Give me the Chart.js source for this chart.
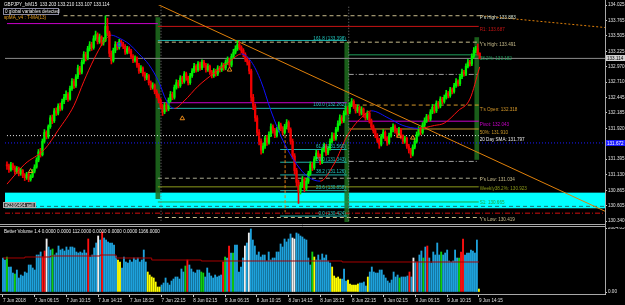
<!DOCTYPE html>
<html>
<head>
<meta charset="utf-8">
<title>GBPJPY_fx M15</title>
<script src="https://cdn.jsdelivr.net/npm/chart.js@4.4.1/dist/chart.umd.min.js"></script>
<style>
  html, body { margin: 0; padding: 0; background: #000; overflow: hidden; }
  #wrap { position: relative; width: 625px; height: 305px; background: #000; }
  canvas { position: absolute; left: 0; }
  #price { top: 0; }
  #vol { top: 227px; }
</style>
</head>
<body>
<div id="wrap">
  <canvas id="price" width="625" height="227"></canvas>
  <canvas id="vol" width="625" height="78"></canvas>
</div>
<script>
// ---- values ----
const timeLabels = ["7 Jun 2018", "7 Jun 06:15", "7 Jun 10:15", "7 Jun 14:15", "7 Jun 18:15", "7 Jun 22:15",
  "8 Jun 02:15", "8 Jun 06:15", "8 Jun 10:15", "8 Jun 14:15", "8 Jun 18:15", "8 Jun 22:15",
  "9 Jun 02:15", "9 Jun 06:15", "9 Jun 10:15", "9 Jun 14:15"];
const barsPerLabel = 16;

const priceTicks = [134.025, 133.765, 133.505, 133.225, 132.970, 132.710, 132.445, 132.185, 131.920,
  131.395, 131.130, 130.865, 130.605, 130.340];

const opens = [
131.30,131.28,131.22,131.30,131.25,131.18,131.24,131.15,131.20,131.12,
131.08,131.14,131.05,131.10,131.19,131.26,131.38,131.52,131.47,131.70,
131.85,131.78,131.95,132.10,132.05,132.22,132.18,132.30,132.26,132.38,
132.45,132.50,132.42,132.60,132.72,132.65,132.80,132.95,132.88,133.05,
133.18,133.12,133.28,133.35,133.30,133.45,133.52,133.40,133.48,133.38,
133.42,133.66,133.55,133.20,133.08,133.25,133.35,133.30,133.40,133.36,
133.32,133.22,133.28,133.24,133.15,133.08,133.12,133.00,132.90,132.95,
132.85,132.78,132.82,132.70,132.62,132.66,132.55,132.48,132.40,132.30,
132.20,132.32,132.25,132.40,132.50,132.45,132.62,132.70,132.65,132.78,
132.72,132.85,132.78,132.70,132.82,132.90,132.98,132.92,133.02,132.95,
133.05,133.00,132.92,132.98,132.88,132.82,132.90,132.85,132.95,132.92,
133.00,132.95,133.05,133.10,133.00,133.15,133.22,133.28,133.35,133.30,
133.25,133.18,133.10,133.05,132.90,132.45,132.30,132.10,131.85,131.70,
131.55,131.62,131.75,131.68,131.82,131.95,131.88,131.80,131.90,131.98,
131.92,131.85,131.95,132.02,131.90,131.70,131.45,131.20,131.00,130.85,
130.95,131.05,130.90,131.02,131.15,131.30,131.25,131.40,131.50,131.45,
131.35,131.55,131.62,131.50,131.58,131.70,131.80,131.75,131.90,132.00,
132.10,132.05,132.18,132.25,132.20,132.32,132.38,132.30,132.22,132.28,
132.18,132.25,132.15,132.10,132.18,132.05,131.95,131.88,131.80,131.72,
131.65,131.78,131.85,131.75,131.68,131.80,131.90,131.95,131.88,131.82,
131.90,131.78,131.70,131.75,131.62,131.55,131.48,131.60,131.70,131.82,
131.90,131.85,131.98,132.05,132.12,132.08,132.20,132.28,132.22,132.35,
132.30,132.42,132.38,132.45,132.52,132.48,132.58,132.55,132.65,132.72,
132.68,132.80,132.88,132.85,132.98,133.05,133.02,133.15,133.25,133.28,
133.203];
const highs = [
131.35,131.31,131.34,131.33,131.28,131.27,131.26,131.24,131.22,131.15,
131.17,131.16,131.13,131.22,131.30,131.42,131.56,131.58,131.74,131.90,
131.88,131.98,132.14,132.15,132.26,132.27,132.34,132.35,132.42,132.50,
132.56,132.53,132.64,132.77,132.76,132.84,133.00,132.98,133.09,133.23,
133.22,133.32,133.40,133.39,133.50,133.58,133.55,133.53,133.50,133.47,
133.84,133.80,133.58,133.24,133.29,133.40,133.39,133.44,133.43,133.39,
133.35,133.32,133.31,133.27,133.18,133.16,133.14,133.03,132.99,132.97,
132.88,132.86,132.84,132.73,132.70,132.68,132.58,132.51,132.43,132.33,
132.36,132.35,132.44,132.55,132.54,132.66,132.75,132.74,132.82,132.81,
132.89,132.88,132.81,132.86,132.94,133.03,133.01,133.06,133.05,133.09,
133.08,133.03,133.02,133.00,132.91,132.94,132.93,132.99,132.98,133.04,
133.03,133.09,133.14,133.12,133.19,133.27,133.33,133.42,133.40,133.33,
133.28,133.21,133.14,133.08,132.93,132.50,132.34,132.14,131.90,131.74,
131.67,131.79,131.80,131.86,132.00,131.98,131.92,131.94,132.03,132.01,
131.95,131.99,132.07,132.05,131.93,131.74,131.49,131.24,131.04,131.00,
131.10,131.08,131.06,131.19,131.35,131.34,131.44,131.55,131.54,131.48,
131.59,131.67,131.65,131.62,131.74,131.85,131.84,131.94,132.05,132.15,
132.14,132.22,132.30,132.29,132.36,132.43,132.41,132.33,132.32,132.30,
132.29,132.27,132.18,132.22,132.20,132.08,131.98,131.91,131.83,131.75,
131.82,131.90,131.88,131.78,131.84,131.94,132.00,131.98,131.91,131.94,
131.92,131.81,131.79,131.77,131.65,131.58,131.64,131.74,131.86,131.95,
131.94,132.02,132.10,132.16,132.15,132.24,132.33,132.31,132.39,132.38,
132.46,132.45,132.49,132.57,132.55,132.62,132.61,132.69,132.77,132.75,
132.84,132.93,132.91,133.02,133.10,133.08,133.19,133.30,133.32,133.36,
133.21];
const lows = [
131.22,131.17,131.19,131.21,131.14,131.15,131.11,131.12,131.08,131.03,
131.05,131.01,131.02,131.08,131.16,131.24,131.35,131.43,131.45,131.67,
131.74,131.75,131.92,132.00,132.02,132.14,132.15,132.22,132.23,132.34,
132.41,132.38,132.40,132.57,132.60,132.62,132.77,132.84,132.85,133.02,
133.07,133.09,133.24,133.25,133.27,133.42,133.36,133.37,133.33,133.34,
133.40,133.50,133.14,133.02,133.05,133.21,133.26,133.27,133.32,133.28,
133.18,133.19,133.20,133.11,133.04,133.05,132.96,132.86,132.87,132.81,
132.74,132.75,132.66,132.58,132.59,132.51,132.44,132.36,132.26,132.14,
132.17,132.21,132.22,132.37,132.41,132.42,132.59,132.61,132.62,132.68,
132.69,132.74,132.66,132.67,132.79,132.87,132.88,132.89,132.91,132.92,
132.96,132.88,132.89,132.84,132.78,132.79,132.81,132.82,132.88,132.89,
132.91,132.92,133.01,132.96,132.97,133.12,133.19,133.25,133.26,133.21,
133.14,133.06,133.00,132.85,132.38,132.24,132.04,131.80,131.64,131.48,
131.50,131.58,131.63,131.65,131.78,131.84,131.76,131.77,131.86,131.88,
131.81,131.82,131.91,131.85,131.65,131.40,131.14,130.94,130.64,130.80,
130.91,130.84,130.86,130.98,131.12,131.20,131.22,131.37,131.41,131.30,
131.32,131.52,131.46,131.47,131.55,131.67,131.71,131.72,131.87,131.97,
132.01,132.02,132.15,132.16,132.17,132.29,132.26,132.18,132.19,132.14,
132.15,132.11,132.06,132.07,132.01,131.91,131.84,131.76,131.68,131.58,
131.62,131.75,131.71,131.63,131.65,131.77,131.86,131.84,131.78,131.79,
131.74,131.66,131.67,131.58,131.50,131.42,131.45,131.57,131.67,131.79,
131.81,131.82,131.95,132.02,132.04,132.05,132.17,132.18,132.19,132.26,
132.27,132.34,132.35,132.42,132.44,132.45,132.51,132.52,132.62,132.64,
132.65,132.77,132.81,132.82,132.95,132.98,132.99,133.12,133.21,133.17,
133.107];
const closes = [
131.28,131.22,131.30,131.25,131.18,131.24,131.15,131.20,131.12,131.08,
131.14,131.05,131.10,131.19,131.26,131.38,131.52,131.47,131.70,131.85,
131.78,131.95,132.10,132.05,132.22,132.18,132.30,132.26,132.38,132.45,
132.50,132.42,132.60,132.72,132.65,132.80,132.95,132.88,133.05,133.18,
133.12,133.28,133.35,133.30,133.45,133.52,133.40,133.48,133.38,133.42,
133.66,133.55,133.20,133.08,133.25,133.35,133.30,133.40,133.36,133.32,
133.22,133.28,133.24,133.15,133.08,133.12,133.00,132.90,132.95,132.85,
132.78,132.82,132.70,132.62,132.66,132.55,132.48,132.40,132.30,132.20,
132.32,132.25,132.40,132.50,132.45,132.62,132.70,132.65,132.78,132.72,
132.85,132.78,132.70,132.82,132.90,132.98,132.92,133.02,132.95,133.05,
133.00,132.92,132.98,132.88,132.82,132.90,132.85,132.95,132.92,133.00,
132.95,133.05,133.10,133.00,133.15,133.22,133.28,133.35,133.30,133.25,
133.18,133.10,133.05,132.90,132.45,132.30,132.10,131.85,131.70,131.55,
131.62,131.75,131.68,131.82,131.95,131.88,131.80,131.90,131.98,131.92,
131.85,131.95,132.02,131.90,131.70,131.45,131.20,131.00,130.85,130.95,
131.05,130.90,131.02,131.15,131.30,131.25,131.40,131.50,131.45,131.35,
131.55,131.62,131.50,131.58,131.70,131.80,131.75,131.90,132.00,132.10,
132.05,132.18,132.25,132.20,132.32,132.38,132.30,132.22,132.28,132.18,
132.25,132.15,132.10,132.18,132.05,131.95,131.88,131.80,131.72,131.65,
131.78,131.85,131.75,131.68,131.80,131.90,131.95,131.88,131.82,131.90,
131.78,131.70,131.75,131.62,131.55,131.48,131.60,131.70,131.82,131.90,
131.85,131.98,132.05,132.12,132.08,132.20,132.28,132.22,132.35,132.30,
132.42,132.38,132.45,132.52,132.48,132.58,132.55,132.65,132.72,132.68,
132.80,132.88,132.85,132.98,133.05,133.02,133.15,133.25,133.28,133.20,
133.114];

// T-MA(13) line, sampled along the curve
const maBars = [0, 9, 19, 26, 34, 39, 44, 49, 53, 57, 62, 67, 72, 77, 81, 85, 90, 97, 105, 113, 119,
  124, 129, 134, 140, 147, 153, 159, 166, 173, 181, 185, 194, 201, 209, 217, 222, 229, 235, 240];
const maValues = [130.97, 131.31, 131.56, 131.89, 132.31, 132.72, 133.09, 133.39, 133.51, 133.46, 133.36,
  133.19, 133.01, 132.72, 132.39, 132.26, 132.39, 132.64, 132.86, 133.06, 133.19, 133.06, 132.72, 132.22,
  131.72, 131.31, 131.09, 131.02, 131.31, 131.81, 132.14, 132.22, 132.09, 131.97, 131.92, 131.97, 132.01,
  132.22, 132.42, 132.97];

// signal arrows (orange, under lows) and the blue box at the first top
const arrowBars = [12, 89, 113, 199, 206];
const arrowPrices = [131.19, 132.09, 132.92, 131.79, 131.76];
const boxBars = [57];
const boxPrices = [133.35];

// horizontal levels: price, first bar, last bar
const levelPrices = [133.708, 133.842, 133.66, 133.42, 133.391, 133.114, 133.175, 132.841, 132.358, 132.262,
  132.318, 132.043, 131.910, 131.797, 131.672, 131.560, 131.343, 131.126, 130.858, 130.424, 131.357,
  131.07, 130.923, 130.665, 130.59, 130.474, 130.40];
const levelFrom = [0, 28.7, 76.6, 76.6, 76.6, -1, 173.5, 173.5, 76.6, 76.6, 173.5, 173.5, 173.5, 0, -1,
  138.7, 138.7, 138.7, 138.7, 138.7, 173.5, 76.6, 76.6, 76.6, -1, -1, 76.6];
const levelTo = [76.6, 240.5, 239.5, 172.5, 240.5, 303.6, 239.5, 239.5, 172.5, 172.5, 239.5, 239.5, 239.5,
  239.5, 303.6, 172.5, 172.5, 172.5, 172.5, 172.5, 239.5, 240.5, 239.5, 239.5, 303.6, 303.6, 240.5];
const levelKinds = ["pivot", "hiDash", "r1", "fib", "hiDash", "bid", "fibGreen", "dashDot", "pivot", "fib",
  "openDash", "pivot", "half", "sma", "blueDot", "fib", "fib", "fib", "fib", "fib", "dashDot",
  "lowDash", "weekly", "s1", "order", "stop", "hiDash"];

// session boxes (dark green) and separators
const sessionBars = [76.6, 172.5, 238.5];
const sessionLow = [130.72, 130.32, 131.39];
const sessionHigh = [133.81, 133.39, 133.47];
const separatorBars = [78.2, 173.5];
const bandTop = 130.824, bandBottom = 130.557;

// trend lines: [bar, price] end points
const trendMain = [[75.1, 134.058], [303.6, 130.507]];
const trendTop = [[240.5, 133.842], [303.6, 133.641]];
const markerVertical = [[141.2, 131.89], [141.2, 130.49]];

// level tags at the right
const tagTexts = ["P's High: 133.883", "R1: 133.687", "Y's High: 133.491", "38.2%: 133.182", "T's Open: 132.318",
  "Pivot: 132.043", "50%: 131.910", "20 Day SMA: 131.797", "P's Low: 131.034", "Weekly38.2%: 130.923",
  "S1: 130.665", "Y's Low: 130.419"];
const tagPrices = [133.808, 133.608, 133.341, 133.108, 132.241, 131.991, 131.841, 131.724, 131.040, 130.890,
  130.657, 130.357];
const tagKinds = ["hi", "r1", "hiDash", "fibGreen", "openDash", "pivot", "half", "sma", "hiDash", "weekly", "s1", "hiDash"];

const fibTexts = ["161.8 (133.398)", "100.0 (132.262)", "61.8 (131.560)", "50.0 (131.343)", "38.2 (131.126)",
  "23.6 (130.858)", "0.0 (130.424)"];
const fibTextPrices = [133.458, 132.324, 131.607, 131.391, 131.174, 130.907, 130.457];

// Better Volume 1.4
const volumes = [
1384,1302,1424,1017,1017,773,733,895,570,692,651,814,773,1099,1099,977,895,1506,1506,1628,
1424,1669,2157,1831,1709,1750,1506,1587,1872,1709,1750,1669,1831,1709,1831,1831,1791,1628,1587,1628,
1587,1709,1587,2157,1424,1506,1791,1994,2279,2116,2442,2198,2116,2035,1994,1994,1913,1465,1302,1221,
977,1424,1221,1180,1302,1221,1384,1302,1384,1221,1302,1709,1221,814,692,611,570,407,204,204,
285,366,570,366,285,448,529,611,611,529,936,814,1058,1302,1099,936,814,773,895,895,
814,773,611,977,773,651,570,692,611,651,692,1221,1424,1384,1872,1587,1587,1913,1913,814,
1017,1384,1872,1994,2401,2564,2116,1872,1506,1628,1424,1506,1506,1262,1628,1302,1384,1384,1628,1628,
1954,1831,2157,2035,2157,2361,2198,2157,2401,2361,2279,2238,2157,2116,1384,1099,1628,1424,1302,1506,
1302,1547,1384,1506,1262,1180,1017,651,570,611,529,529,936,448,488,326,285,285,285,326,
366,366,407,244,611,814,1017,814,773,773,895,895,692,570,448,366,488,814,611,692,
570,611,611,611,651,814,611,1384,1221,1221,1506,1669,1384,1831,1872,1384,1180,1628,1506,1994,
1506,1628,1506,1587,1709,1262,1221,1262,1709,1384,1384,1628,2157,1506,1587,1587,1709,1669,1587,2116,
122];
const volTypes = (
"bbgbbbgbbbbbbbbbbbbbrrwbbgbbbbbbbbbbbbbb" +
"bbbrbbbbwbrbbbbbbbyybbbbbbbbbbbbbyyyyyyy" +
"bbbbbbbbbbbbgrbbbbbbggbbbbbbbbbrgbrbgbbb" +
"bbwbwbbbbbbbbbbbbbbbbbbbbbwwbbbbbbbbgybb" +
"bbbbbbyyyyybbbyyyyyybbbbybbbbbbbbbbbbbbb" +
"gbbbbrbwbrbbgbrbbbbbbgbbbbbbbbgrrbbbbbbb" +
"y").split("");
const volMaBars = [0, 11, 24, 49, 57, 75, 100, 171, 240];
const volMaValues = [1384, 1424, 1465, 1506, 1384, 1302, 1262, 1221, 1221];
const volTicks = [0, 2604.05];

// ---- styles ----
const FONT = '"Liberation Sans", Arial, sans-serif';
const AXIS = '#c8c8c8';
const kindStyle = {
  pivot: { color: '#c800c8', dash: [] },
  hiDash: { color: '#c8bc8c', dash: [4, 3] },
  hi: { color: '#d0e0d0', dash: [] },
  r1: { color: '#c81414', dash: [] },
  fib: { color: '#20b2aa', dash: [] },
  fibGreen: { color: '#1e9e5a', dash: [] },
  bid: { color: '#8c8c8c', dash: [] },
  dashDot: { color: '#a0a0a0', dash: [5, 2, 1, 2] },
  openDash: { color: '#d89a2a', dash: [4, 3] },
  half: { color: '#c8962a', dash: [] },
  sma: { color: '#e8e8e8', dash: [1, 2] },
  blueDot: { color: '#1a1aff', dash: [1, 2] },
  lowDash: { color: '#a8a890', dash: [4, 3] },
  weekly: { color: '#8c9a1a', dash: [] },
  s1: { color: '#1ea03c', dash: [] },
  order: { color: '#1c6e6e', dash: [4, 3] },
  stop: { color: '#d01010', dash: [5, 2, 1, 2] }
};
const volColor = { b: '#1ea2dc', r: '#ff1010', g: '#10d010', w: '#f0f0f0', y: '#ffff00' };
const BULL = '#00f000', BEAR = '#f00000';

Chart.defaults.font.family = FONT;
Chart.defaults.animation = false;

const bull = closes.map((c, i) => c >= opens[i]);

const levelSets = levelPrices.map((p, i) => ({
  type: 'line',
  data: [{ x: levelFrom[i], y: p }, { x: levelTo[i], y: p }],
  borderColor: kindStyle[levelKinds[i]].color,
  borderDash: kindStyle[levelKinds[i]].dash,
  borderWidth: 1, pointRadius: 0, order: 5
}));

const vline = (pts, color, dash) => ({
  type: 'line', data: pts.map(p => ({ x: p[0], y: p[1] })),
  borderColor: color, borderDash: dash, borderWidth: 1, pointRadius: 0, order: 4
});

const datasets = [
  ...levelSets,
  {
    type: 'bar', grouped: false, order: 6, barThickness: 4,
    data: sessionBars.map((b, i) => ({ x: b, y: [sessionLow[i], sessionHigh[i]] })),
    backgroundColor: 'rgba(30,110,30,0.85)'
  },
  ...separatorBars.map(b => vline([[b, 134.2], [b, 130.2]], '#7a7a7a', [1, 2])),
  vline(markerVertical, '#e07a10', [3, 2]),
  {
    type: 'bar', grouped: false, order: 2, barThickness: 1,
    data: closes.map((c, i) => ({ x: i, y: [lows[i], highs[i]] })),
    backgroundColor: bull.map(u => u ? BULL : BEAR)
  },
  {
    type: 'bar', grouped: false, order: 1, barThickness: 1.6, minBarLength: 1,
    data: closes.map((c, i) => ({ x: i, y: [opens[i], c] })),
    backgroundColor: bull.map(u => u ? BULL : BEAR)
  },
  {
    type: 'line', order: 0, borderWidth: 1, pointRadius: 0, tension: 0.4, cubicInterpolationMode: 'monotone',
    data: maBars.map((b, i) => ({ x: b, y: maValues[i] })),
    borderColor: '#ff1010',
    segment: { borderColor: c => c.p1.parsed.y >= c.p0.parsed.y ? '#ff1010' : '#1010ff' }
  },
  {
    type: 'line', order: -1, showLine: false, pointStyle: 'triangle', pointRadius: 2.6, pointBorderWidth: 1,
    pointBorderColor: '#e88a1a', pointBackgroundColor: 'rgba(0,0,0,0)',
    data: arrowBars.map((b, i) => ({ x: b, y: arrowPrices[i] }))
  },
  {
    type: 'line', order: -1, showLine: false, pointStyle: 'rect', pointRadius: 2.2, pointBorderWidth: 1,
    pointBorderColor: '#2020ff', pointBackgroundColor: 'rgba(0,0,0,0)',
    data: boxBars.map((b, i) => ({ x: b, y: boxPrices[i] }))
  },
  vline(trendMain, '#e0800a', []),
  vline(trendTop, '#e0800a', [2, 2])
];

function text(ctx, s, x, y, color, align) {
  ctx.fillStyle = color;
  ctx.textAlign = align || 'left';
  ctx.textBaseline = 'middle';
  ctx.fillText(s, x, y);
}

const priceDecor = {
  id: 'priceDecor',
  beforeDraw(chart) {
    const { ctx, width, height } = chart;
    ctx.save();
    ctx.fillStyle = '#000';
    ctx.fillRect(0, 0, width, height);
    ctx.restore();
  },
  beforeDatasetsDraw(chart) {
    const { ctx, chartArea: a, scales: { y } } = chart;
    const t = y.getPixelForValue(bandTop), b = y.getPixelForValue(bandBottom);
    ctx.save();
    ctx.fillStyle = '#00ffff';
    ctx.fillRect(a.left, t, a.right - a.left, b - t);
    ctx.restore();
  },
  afterDraw(chart) {
    const { ctx, chartArea: a, scales: { x, y } } = chart;
    ctx.save();
    ctx.font = '4.6px ' + FONT;
    tagTexts.forEach((s, i) => {
      const k = kindStyle[tagKinds[i]];
      text(ctx, s, x.getPixelForValue(240), y.getPixelForValue(tagPrices[i]), k.color);
    });
    fibTexts.forEach((s, i) => {
      text(ctx, s, x.getPixelForValue(172), y.getPixelForValue(fibTextPrices[i]), '#20c8c0', 'right');
    });
    // header
    text(ctx, 'GBPJPY_fxM15  133.203 133.210 133.107 133.114', 4, 5, '#f0f0f0');
    ctx.strokeStyle = '#8a8aa0';
    ctx.lineWidth = 1;
    ctx.strokeRect(3.5, 8.5, 55, 6);
    text(ctx, '0 global variables detected', 5, 11.6, '#f0f0f0');
    text(ctx, 'spMA_v4 : T-MA(13)', 4, 18, '#e8a020');
    // order tag
    ctx.fillStyle = '#3a3a3a';
    ctx.fillRect(3, 202, 33, 6);
    ctx.strokeStyle = '#b0b0b0';
    ctx.strokeRect(3.5, 202.5, 32, 5);
    text(ctx, '#2306464 sell', 5, 205.3, '#f0f0f0');
    // highlighted axis values
    [[133.114, '#d0d0d0', '#000'], [131.672, '#1a1aff', '#fff']].forEach(([v, bg, fg]) => {
      const py = Math.round(y.getPixelForValue(v));
      ctx.fillStyle = bg;
      ctx.fillRect(a.right + 1, py - 3, 19, 6);
      text(ctx, v.toFixed(3), a.right + 2, py + 0.3, fg);
    });
    // frame
    ctx.strokeStyle = '#a8a8a8';
    ctx.beginPath();
    ctx.moveTo(a.right + 0.5, 0); ctx.lineTo(a.right + 0.5, 227);
    ctx.moveTo(0, 224.5); ctx.lineTo(a.right, 224.5);
    ctx.moveTo(0, 226.5); ctx.lineTo(a.right, 226.5);
    ctx.stroke();
    ctx.restore();
  }
};

new Chart(document.getElementById('price'), {
  type: 'bar',
  data: { datasets },
  options: {
    responsive: false, devicePixelRatio: 1, animation: false,
    layout: { padding: { left: 1, top: 2, right: 0, bottom: 3 } },
    plugins: { legend: { display: false }, tooltip: { enabled: false } },
    scales: {
      x: { type: 'linear', min: -1, max: 303.6, offset: false, bounds: 'data', display: false },
      y: {
        position: 'right', min: 130.3234, max: 134.025,
        afterFit(s) { s.width = 20; s.paddingTop = 0; s.paddingBottom = 0; },
        afterBuildTicks(s) { s.ticks = priceTicks.map(v => ({ value: v })); },
        ticks: { color: '#e0e0e0', font: { size: 4.6 }, padding: 1, callback: v => v.toFixed(3) },
        grid: { drawOnChartArea: false, tickLength: 2, color: AXIS },
        border: { color: AXIS }
      }
    }
  },
  plugins: [priceDecor]
});

const volDecor = {
  id: 'volDecor',
  beforeDraw(chart) {
    const { ctx, width, height } = chart;
    ctx.save();
    ctx.fillStyle = '#000';
    ctx.fillRect(0, 0, width, height);
    ctx.restore();
  },
  afterDraw(chart) {
    const { ctx, chartArea: a } = chart;
    ctx.save();
    ctx.font = '4.6px ' + FONT;
    text(ctx, 'Better Volume 1.4 0.0000 0.0000 112.0000 0.0000 0.0000 0.0000 1166.0000', 4, 4.5, '#f0f0f0');
    ctx.strokeStyle = '#a8a8a8';
    ctx.beginPath();
    ctx.moveTo(a.right + 0.5, 0); ctx.lineTo(a.right + 0.5, a.bottom);
    ctx.moveTo(0, a.bottom + 0.5); ctx.lineTo(a.right, a.bottom + 0.5);
    ctx.stroke();
    ctx.restore();
  }
};

new Chart(document.getElementById('vol'), {
  type: 'bar',
  data: {
    datasets: [
      {
        type: 'line', order: 0, stepped: true, borderWidth: 1, pointRadius: 0, borderColor: '#a80000',
        data: volMaBars.map((b, i) => ({ x: b, y: volMaValues[i] }))
      },
      {
        type: 'bar', order: 1, grouped: false, barThickness: 1.2,
        data: volumes.map((v, i) => ({ x: i, y: v })),
        backgroundColor: volTypes.map(t => volColor[t])
      }
    ]
  },
  options: {
    responsive: false, devicePixelRatio: 1, animation: false,
    layout: { padding: { left: 1, top: 1, right: 0, bottom: 0 } },
    plugins: { legend: { display: false }, tooltip: { enabled: false } },
    scales: {
      x: {
        type: 'linear', min: -1, max: 303.6, offset: false, bounds: 'data',
        afterFit(s) { s.height = 11; s.paddingLeft = 0; s.paddingRight = 0; },
        afterBuildTicks(s) { s.ticks = timeLabels.map((t, i) => ({ value: i * barsPerLabel })); },
        ticks: {
          color: '#e0e0e0', font: { size: 4.6 }, padding: 1, align: 'start', autoSkip: false, maxRotation: 0,
          callback: (v, i) => timeLabels[i]
        },
        grid: { drawOnChartArea: false, offset: false, tickLength: 3, color: AXIS },
        border: { color: AXIS }
      },
      y: {
        position: 'right', min: -81, max: 2604.05,
        afterFit(s) { s.width = 20; s.paddingTop = 0; s.paddingBottom = 0; },
        afterBuildTicks(s) { s.ticks = volTicks.map(v => ({ value: v })); },
        ticks: { color: '#e0e0e0', font: { size: 4.6 }, padding: 1, callback: v => v.toFixed(2) },
        grid: { drawOnChartArea: false, tickLength: 2, color: AXIS },
        border: { color: AXIS }
      }
    }
  },
  plugins: [volDecor]
});
</script>
</body>
</html>
